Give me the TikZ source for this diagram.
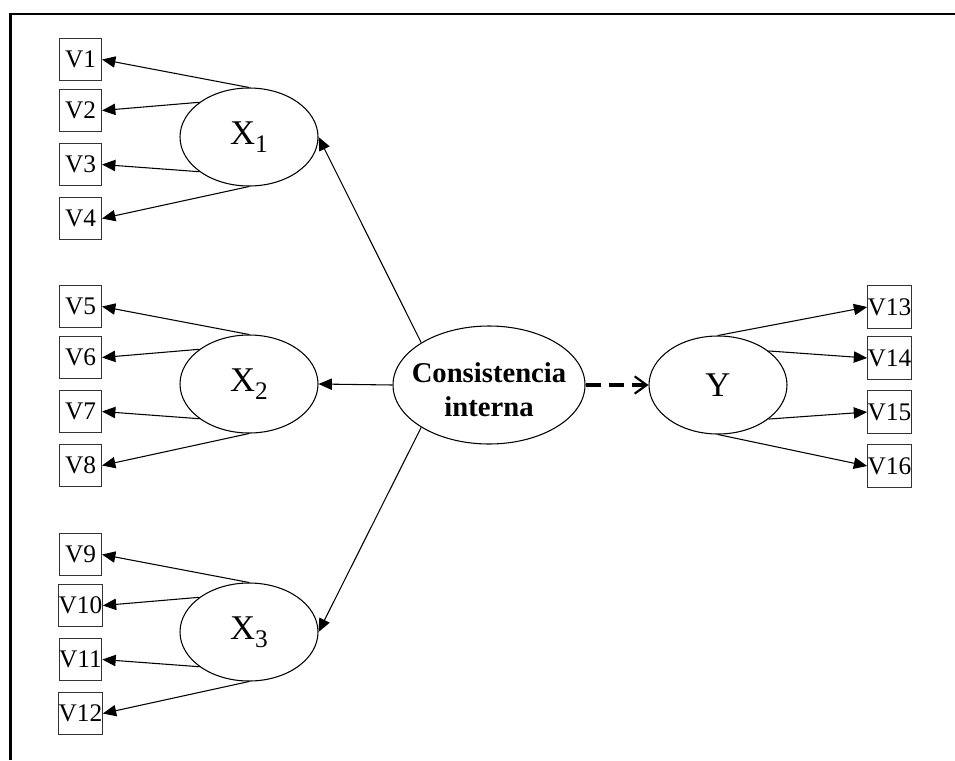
\documentclass[tikz,border=0pt]{standalone}
\usepackage{fontspec}
\setmainfont{Liberation Serif}
\usetikzlibrary{arrows.meta,shapes.geometric}
\begin{document}
\begin{tikzpicture}[x=0.75pt,y=-0.75pt,
  vbox/.style={draw=black!80, line width=0.8pt, minimum width=31.5pt, minimum height=32pt, inner sep=0pt, font=\fontsize{19}{21}\selectfont},
  lat/.style={draw, ellipse, line width=0.8pt, minimum width=103.5pt, minimum height=73.5pt, inner sep=0pt, font=\fontsize{26}{30}\selectfont},
  core/.style={draw, ellipse, line width=0.8pt, minimum width=144pt, minimum height=88.5pt, inner sep=0pt, font=\fontsize{21.5}{25.5}\selectfont\bfseries},
  arr/.style={line width=0.8pt, -{Triangle[length=10pt,width=8.5pt]}},
  dasharr/.style={line width=2.6pt, dash pattern=on 11.25pt off 6pt, -{Straight Barb[length=9pt,width=13pt,line width=1.6pt]}},
  frame/.style={line width=1.8pt}
]
\useasboundingbox (0,0) rectangle (955,760);
\draw[frame] (10.5,760) -- (10.5,14) -- (955,14);

\newcommand{\sub}[1]{\raisebox{-6pt}{\fontsize{19}{21}\selectfont #1}}

% latent nodes
\node[lat] (X1) at (249,137) {X\sub{1}};
\node[lat] (X2) at (249,384) {X\sub{2}};
\node[lat] (X3) at (249,632) {X\sub{3}};
\node[lat] (Y) at (718,385) {Y};
\node[core] (C) at (489,385) {\raisebox{-11pt}[22pt][22pt]{\makebox[0pt]{\begin{tabular}{@{}c@{}}Consistencia\\ interna\end{tabular}}}};

% indicator boxes left
\node[vbox] (V1) at (80.5,59.5) {V1};
\node[vbox] (V2) at (80.5,110.5) {V2};
\node[vbox] (V3) at (80.5,164.5) {V3};
\node[vbox] (V4) at (80.5,218.5) {V4};
\node[vbox] (V5) at (80.5,306.5) {V5};
\node[vbox] (V6) at (80.5,357.5) {V6};
\node[vbox] (V7) at (80.5,411.5) {V7};
\node[vbox] (V8) at (80.5,465.5) {V8};
\node[vbox] (V9) at (80.5,554.5) {V9};
\node[vbox] (V10) at (80.5,605.5) {V10};
\node[vbox] (V11) at (80.5,659.5) {V11};
\node[vbox] (V12) at (80.5,713.5) {V12};
% indicator boxes right
\node[vbox] (V13) at (889.5,307) {V13};
\node[vbox] (V14) at (889.5,358) {V14};
\node[vbox] (V15) at (889.5,412) {V15};
\node[vbox] (V16) at (889.5,466) {V16};

% loadings
\foreach \x/\a/\b/\c/\d in {X1/V1/V2/V3/V4, X2/V5/V6/V7/V8, X3/V9/V10/V11/V12}{
  \draw[arr] (\x.north) -- (\a.east);
  \draw[arr] (\x.145) -- (\b.east);
  \draw[arr] (\x.215) -- (\c.east);
  \draw[arr] (\x.south) -- (\d.east);
}
\draw[arr] (Y.north) -- (V13.west);
\draw[arr] (Y.34) -- (V14.west);
\draw[arr] (Y.-34) -- (V15.west);
\draw[arr] (Y.south) -- (V16.west);

% core to latent
\draw[arr] (C.148) -- (X1.east);
\draw[arr] (C.west) -- (X2.east);
\draw[arr] (C.212) -- (X3.east);
\draw[dasharr] (C.east) -- (Y.west);
\end{tikzpicture}
\end{document}
